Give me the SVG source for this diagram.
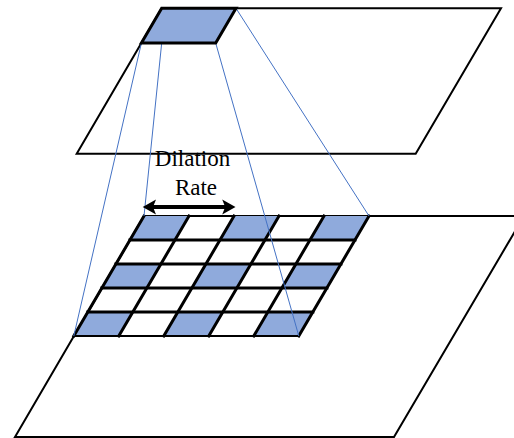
<svg xmlns="http://www.w3.org/2000/svg" width="514" height="438" viewBox="0 0 514 438">
  <style>
    .plane { fill: #ffffff; stroke: #000000; stroke-width: 2; stroke-linejoin: miter; }
    .cell { fill: #8FAADC; stroke: none; }
    .grid { stroke: #000000; stroke-width: 3; fill: none; stroke-linecap: square; }
    .edge { stroke: #000000; stroke-width: 2.2; fill: none; }
    .proj { stroke: #4472C4; stroke-width: 1; fill: none; }
    .label { font-family: "Liberation Serif", "Times New Roman", serif; font-size: 23px; fill: #000000; text-anchor: middle; }
  </style>

  <!-- upper feature map -->
  <g id="upper-map">
    <polygon class="plane" points="161.7,8.3 501,8.3 415.7,153.7 76.7,153.7"/>
  </g>

  <!-- lower feature map with the 5x5 kernel footprint -->
  <g id="lower-map">
    <polygon class="plane" points="144,216 524,216 394,437 15,437"/>
  </g>

  <g id="kernel-grid">
    <!-- sampled positions (every second cell) -->
    <polygon class="cell" points="144,216 189,216 174.96,240 129.96,240"/>
    <polygon class="cell" points="234,216 279,216 264.96,240 219.96,240"/>
    <polygon class="cell" points="324,216 369,216 354.96,240 309.96,240"/>
    <polygon class="cell" points="115.92,264 160.92,264 146.88,288 101.88,288"/>
    <polygon class="cell" points="205.92,264 250.92,264 236.88,288 191.88,288"/>
    <polygon class="cell" points="295.92,264 340.92,264 326.88,288 281.88,288"/>
    <polygon class="cell" points="87.84,312 132.84,312 118.8,336 73.8,336"/>
    <polygon class="cell" points="177.84,312 222.84,312 208.8,336 163.8,336"/>
    <polygon class="cell" points="267.84,312 312.84,312 298.8,336 253.8,336"/>
    <!-- row lines -->
    <line class="grid" x1="129.96" y1="240" x2="354.96" y2="240"/>
    <line class="grid" x1="115.92" y1="264" x2="340.92" y2="264"/>
    <line class="grid" x1="101.88" y1="288" x2="326.88" y2="288"/>
    <line class="grid" x1="87.84" y1="312" x2="312.84" y2="312"/>
    <line class="edge" x1="73.8" y1="336" x2="298.8" y2="336"/>
    <!-- column lines -->
    <line class="grid" x1="144" y1="216" x2="73.8" y2="336"/>
    <line class="grid" x1="189" y1="216" x2="118.8" y2="336"/>
    <line class="grid" x1="234" y1="216" x2="163.8" y2="336"/>
    <line class="grid" x1="279" y1="216" x2="208.8" y2="336"/>
    <line class="grid" x1="324" y1="216" x2="253.8" y2="336"/>
    <line class="grid" x1="369" y1="216" x2="298.8" y2="336"/>
  </g>

  <!-- projection lines from the output cell to the kernel footprint -->
  <g id="connectors">
    <line class="proj" x1="141.4" y1="43" x2="73.8" y2="336"/>
    <line class="proj" x1="161.7" y1="43" x2="144" y2="216"/>
    <line class="proj" x1="215.7" y1="43" x2="298.8" y2="336"/>
    <line class="proj" x1="236" y1="8.3" x2="369" y2="216"/>
  </g>

  <!-- output cell on the upper map -->
  <g id="output-cell">
    <polygon points="161.7,8.3 236,8.3 215.7,43 141.4,43" fill="#8FAADC" stroke="#000000" stroke-width="3" stroke-linejoin="miter"/>
  </g>

  <!-- dilation rate annotation -->
  <g id="dilation-rate">
    <line x1="152" y1="207" x2="226" y2="207" stroke="#000000" stroke-width="4"/>
    <polygon points="142.7,207 156,199.5 153,207 156,214.5" fill="#000000"/>
    <polygon points="235.5,207 222.2,199.5 225.2,207 222.2,214.5" fill="#000000"/>
    <text class="label" x="192.5" y="166">Dilation</text>
    <text class="label" x="196" y="195">Rate</text>
  </g>
</svg>
